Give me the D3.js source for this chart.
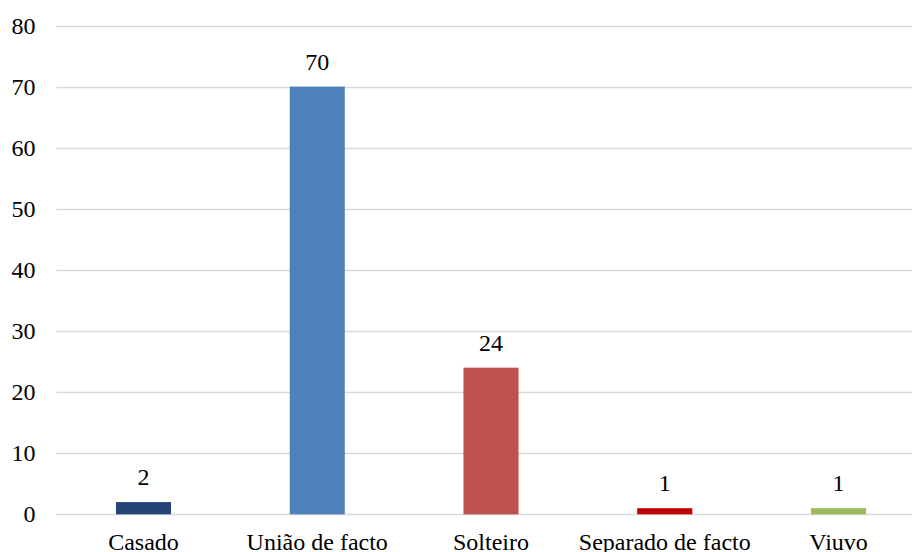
<!DOCTYPE html>
<html>
<head>
<meta charset="utf-8">
<script src="https://cdn.jsdelivr.net/npm/d3@7"></script>
<style>
  html, body { margin: 0; padding: 0; background: #fff; }
  svg { display: block; }
  text { font-family: "Liberation Serif", "Times New Roman", serif; fill: #000; }
</style>
</head>
<body>
<div id="chart"></div>
<script>
// data
var categories = ['Casado', 'União de facto', 'Solteiro', 'Separado de facto', 'Viuvo'];
var values = [2, 70, 24, 1, 1];
var barColors = ['#264478', '#4F81BD', '#C0504D', '#C00000', '#9BBB59'];
var yTicks = [0, 10, 20, 30, 40, 50, 60, 70, 80];

var width = 912;
var height = 552;
var fontSize = 24;

var svg = d3.select('#chart').append('svg')
  .attr('width', width)
  .attr('height', height);

// scales
var x = d3.scaleBand()
  .domain(categories)
  .range([56.6, 925.4])
  .paddingInner(0.683)
  .paddingOuter(0.3415);

var y = d3.scaleLinear()
  .domain([0, 80])
  .range([514.3, 25.5]);

// gridlines
svg.append('g')
  .selectAll('line')
  .data(yTicks)
  .enter()
  .append('line')
  .attr('x1', 56.6)
  .attr('x2', width)
  .attr('y1', d => Math.round(y(d)) + 0.5)
  .attr('y2', d => Math.round(y(d)) + 0.5)
  .attr('stroke', '#d9d9d9')
  .attr('stroke-width', 1.3);

// y tick labels
svg.append('g')
  .selectAll('text')
  .data(yTicks)
  .enter()
  .append('text')
  .attr('x', 35.5)
  .attr('y', d => y(d) + 8)
  .attr('text-anchor', 'end')
  .style('font-size', fontSize + 'px')
  .text(d => d);

// bars
svg.append('g')
  .selectAll('rect')
  .data(values)
  .enter()
  .append('rect')
  .attr('x', (d, i) => x(categories[i]))
  .attr('width', x.bandwidth())
  .attr('y', d => y(d))
  .attr('height', d => y(0) - y(d))
  .attr('fill', (d, i) => barColors[i]);

// value labels
svg.append('g')
  .selectAll('text')
  .data(values)
  .enter()
  .append('text')
  .attr('x', (d, i) => x(categories[i]) + x.bandwidth() / 2)
  .attr('y', d => y(d) - 17)
  .attr('text-anchor', 'middle')
  .style('font-size', fontSize + 'px')
  .text(d => d);

// category labels
svg.append('g')
  .selectAll('text')
  .data(categories)
  .enter()
  .append('text')
  .attr('x', d => x(d) + x.bandwidth() / 2)
  .attr('y', 550)
  .attr('text-anchor', 'middle')
  .style('font-size', fontSize + 'px')
  .text(d => d);
</script>
</body>
</html>
